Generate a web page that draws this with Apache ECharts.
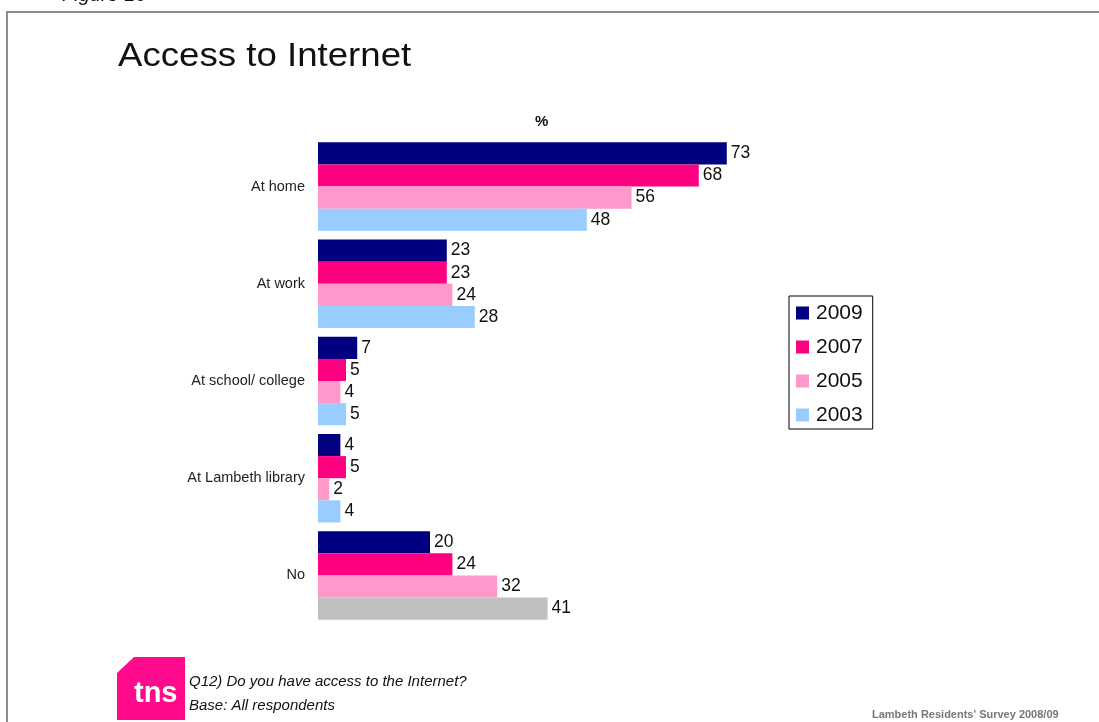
<!DOCTYPE html>
<html>
<head>
<meta charset="utf-8">
<script src="https://cdn.jsdelivr.net/npm/echarts@6/dist/echarts.min.js"></script>
<style>
  html, body { margin: 0; padding: 0; background: #fff; }
  #chart { width: 1099px; height: 722px; }
</style>
</head>
<body>
<div id="chart"></div>
<script>
// Survey answers: where respondents can access the Internet (%)
const categories = ['At home', 'At work', 'At school/ college', 'At Lambeth library', 'No'];
const years = ['2009', '2007', '2005', '2003'];
const values2009 = [73, 23, 7, 4, 20];
const values2007 = [68, 23, 5, 5, 24];
const values2005 = [56, 24, 4, 2, 32];
const values2003 = [48, 28, 5, 4, 41];

const colors = ['#000080', '#FF0080', '#FF99CC', '#99CCFF'];
const seriesValues = [values2009, values2007, values2005, values2003];

const font = '"Liberation Sans", Arial, sans-serif';

const chart = echarts.init(document.getElementById('chart'));

const series = years.map((year, i) => ({
  name: year,
  type: 'bar',
  barGap: '0%',
  barCategoryGap: '9%',
  itemStyle: { color: colors[i] },
  label: {
    show: true,
    position: 'right',
    distance: 4,
    fontFamily: font,
    fontSize: 17.5,
    color: '#111'
  },
  // the 2003 "No" answer is shown in grey
  data: seriesValues[i].map((v, j) =>
    (year === '2003' && categories[j] === 'No')
      ? { value: v, itemStyle: { color: '#C0C0C0' } }
      : v)
}));

chart.setOption({
  animation: false,
  backgroundColor: '#fff',
  grid: { left: 318, top: 138, bottom: 98, width: 560, containLabel: false },
  xAxis: {
    type: 'value', min: 0, max: 100, show: false
  },
  yAxis: {
    type: 'category',
    data: categories,
    inverse: true,
    axisLine: { show: false },
    axisTick: { show: false },
    axisLabel: { fontFamily: font, fontSize: 14.5, color: '#222', margin: 13 }
  },
  legend: {
    data: years,
    orient: 'vertical',
    left: 789,
    top: 296,
    icon: 'rect',
    itemWidth: 13,
    itemHeight: 13,
    itemGap: 12,
    padding: [6, 10, 3, 7],
    borderColor: '#000',
    borderWidth: 1,
    textStyle: { fontFamily: font, fontSize: 21, lineHeight: 22, color: '#111', padding: [0, 0, 0, 2] }
  },
  series: series,
  graphic: [
    // page frame
    { type: 'polyline', shape: { points: [[7, 722], [7, 12], [1099, 12]] },
      style: { stroke: '#8c8c8c', lineWidth: 2, fill: null } },
    { type: 'text', left: 62, top: -15,
      style: { text: 'Figure 16', font: 'italic 20px ' + font, fill: '#111' } },
    { type: 'text', x: 118, y: 40, scaleX: 1.11,
      style: { text: 'Access to Internet', font: '33px ' + font, fill: '#111' } },
    { type: 'text', left: 535, top: 114,
      style: { text: '%', font: 'bold 15px ' + font, fill: '#111' } },
    // tns logo
    { type: 'polygon',
      shape: { points: [[134, 657], [185, 657], [185, 720], [117, 720], [117, 673]] },
      style: { fill: '#FF0A8C' } },
    { type: 'text', left: 134, top: 679,
      style: { text: 'tns', font: 'bold 29px ' + font, fill: '#fff' } },
    { type: 'text', left: 189, top: 674,
      style: { text: 'Q12) Do you have access to the Internet?', font: 'italic 15px ' + font, fill: '#111' } },
    { type: 'text', left: 189, top: 698,
      style: { text: 'Base: All respondents', font: 'italic 15px ' + font, fill: '#111' } },
    { type: 'text', left: 872, top: 709,
      style: { text: "Lambeth Residents' Survey 2008/09", font: 'bold 11px ' + font, fill: '#777' } }
  ]
});
</script>
</body>
</html>
